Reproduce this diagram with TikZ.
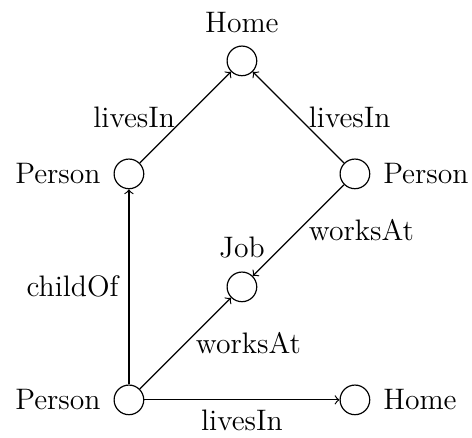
\documentclass[tikz,border=0pt]{standalone}
\begin{document}
\begin{tikzpicture}[x=45.75pt,y=45.75pt,line width=0.48pt,
  every node/.style={font=\large,inner sep=4pt},
  every label/.style={font=\large,inner sep=4pt},
  label distance=1pt,
  vert/.style={circle,draw,minimum size=12pt,inner sep=0pt}]
\useasboundingbox (-52.2pt,-15.4pt) rectangle (138.9pt,161.9pt);
\node[vert,label=above:Home] (h1) at (1,3) {};
\node[vert,label=left:Person] (p1) at (0,2) {};
\node[vert,label=right:Person] (p2) at (2,2) {};
\node[vert,label=above:Job] (j) at (1,1) {};
\node[vert,label=left:Person] (p3) at (0,0) {};
\node[vert,label=right:Home] (h2) at (2,0) {};
\draw[->] (p1) -- node[left] {livesIn} (h1);
\draw[->] (p2) -- node[right] {livesIn} (h1);
\draw[->] (p2) -- node[right] {worksAt} (j);
\draw[->] (p3) -- node[left] {childOf} (p1);
\draw[->] (p3) -- node[right] {worksAt} (j);
\draw[->] (p3) -- node[below] {livesIn} (h2);
\end{tikzpicture}
\end{document}
